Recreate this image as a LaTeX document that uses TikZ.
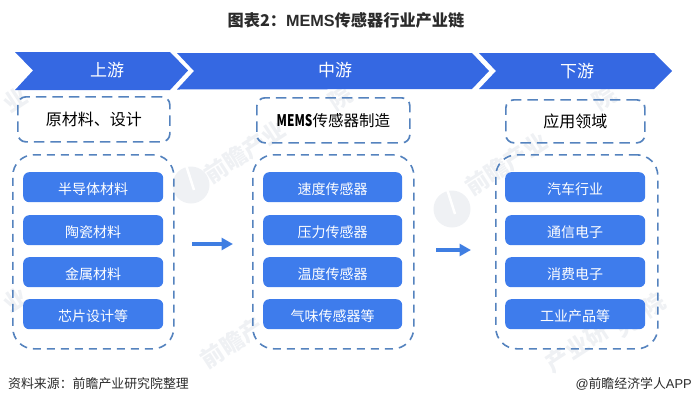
\documentclass[tikz,border=0pt]{standalone}
\usepackage{fontspec}
\setmainfont{Noto Sans CJK SC}
\newfontfamily\lat{Liberation Sans}
\usetikzlibrary{arrows.meta}
\definecolor{chev}{HTML}{3568E2}
\definecolor{itemblue}{HTML}{3E7CEC}
\definecolor{dashblue}{HTML}{5583BE}
\definecolor{flowblue}{HTML}{3F7EE2}
\definecolor{ink}{HTML}{2B2B2B}
\definecolor{wm}{HTML}{EFF1F4}
\newcommand{\fs}[1]{\fontsize{#1}{#1}\selectfont}
\tikzset{
  x=1pt,y=-1pt,
  chevron/.style={fill=chev,draw=none},
  chevlabel/.style={text=white,font=\fs{17},inner sep=0pt},
  headbox/.style={draw=dashblue,line width=1.7pt,dash pattern=on 10.5pt off 6pt,rounded corners=8pt,inner sep=0pt,font=\fs{16},text=black},
  groupbox/.style={draw=dashblue,line width=1.6pt,dash pattern=on 8pt off 6pt,rounded corners=21pt},
  item/.style={fill=itemblue,rounded corners=6pt,inner sep=0pt,text=white,font=\fs{14},text height=15pt,text depth=1pt},
  flow/.style={draw=flowblue,line width=3.8pt,-{Triangle[length=11.5pt,width=12pt]}},
  foot/.style={font=\fs{12.9},text=ink,inner sep=0pt},
  wmark/.style={text=wm,font=\bfseries\fs{23},inner sep=0pt,rotate=33},
}
\newcommand{\boxat}[6]{\node[#1,minimum width=#4-#3,minimum height=#6-#5,anchor=north west] (#2) at (#3,#5)}
\begin{document}
\begin{tikzpicture}
\useasboundingbox (0,0) rectangle (692,405);
% pale watermark, only where it is not covered by a box or a label
\foreach \wx/\wy/\wc [count=\wi] in {
  15/100/业, 245/152/前瞻产业, 340/98/院,
  506/164/前瞻产业, 604/98/院,
  15/300/业, 232/343/前瞻产,
  577/347/产业研, 626/325/究, 653/305/院}
  \node[wmark] (wm\wi) at (\wx,\wy) {\wc};
\fill[wm] (191,185) circle[radius=18.5];
\draw[white,line width=2.5pt] (186,165) -- (194,190);
\fill[wm] (452,209) circle[radius=18.5];
\draw[white,line width=2.5pt] (447,189) -- (455,214);
% chevrons
\fill[chevron] (15,52) -- (170,52) -- (188,70.5) -- (170,90) -- (15,90) -- (33,70.5) -- cycle;
\fill[chevron] (177,53) -- (472,53) -- (489,71) -- (472,89) -- (177,89.5) -- (194,71) -- cycle;
\fill[chevron] (479,53) -- (654,53) -- (672,71) -- (654,89) -- (479,89) -- (496,71) -- cycle;
\node[chevlabel] (c1) at (107,70) {上游};
\node[chevlabel] (c2) at (335,70) {中游};
\node[chevlabel] (c3) at (577,71) {下游};
% title and footer
\node[inner sep=0pt,text=ink,font=\bfseries\fs{16.2}] (title) at (346,20) {图表2：{\lat MEMS}传感器行业产业链};
\node[foot,anchor=west] (src) at (8,384) {资料来源：前瞻产业研究院整理};
\node[foot,anchor=east] (brand) at (692,384) {{\lat @}前瞻经济学人{\lat APP}};
% head boxes
\boxat{headbox}{h1}{17}{169}{96}{141} {原材料、设计};
\boxat{headbox}{h2}{256}{409}{97}{142} {\scalebox{0.74}[1]{\bfseries MEMS}\fs{15.5}传感器制造};
\boxat{headbox}{h3}{505}{644}{99}{142} {应用领域};
% groups
\boxat{groupbox}{g1}{12}{173}{154}{348} {};
\boxat{groupbox}{g2}{252}{413}{154}{348} {};
\boxat{groupbox}{g3}{495}{657}{154}{348} {};
% items
\boxat{item}{a1}{23}{163}{172}{202} {半导体材料};
\boxat{item}{a2}{23}{163}{215}{245} {陶瓷材料};
\boxat{item}{a3}{23}{163}{257}{287} {金属材料};
\boxat{item}{a4}{23}{163}{299}{329} {芯片设计等};
\boxat{item}{b1}{263}{402}{172}{202} {速度传感器};
\boxat{item}{b2}{263}{402}{215}{245} {压力传感器};
\boxat{item}{b3}{263}{402}{257}{287} {温度传感器};
\boxat{item}{b4}{263}{402}{299}{329} {气味传感器等};
\boxat{item}{d1}{505}{645}{172}{202} {汽车行业};
\boxat{item}{d2}{505}{645}{215}{245} {通信电子};
\boxat{item}{d3}{505}{645}{257}{287} {消费电子};
\boxat{item}{d4}{505}{645}{299}{329} {工业产品等};
% flow arrows
\coordinate (f1s) at (192,244);
\coordinate (f1e) at (233,244);
\coordinate (f2s) at (436,250);
\coordinate (f2e) at (471,250);
\draw[flow] (f1s) -- (f1e);
\draw[flow] (f2s) -- (f2e);
\end{tikzpicture}
\end{document}
